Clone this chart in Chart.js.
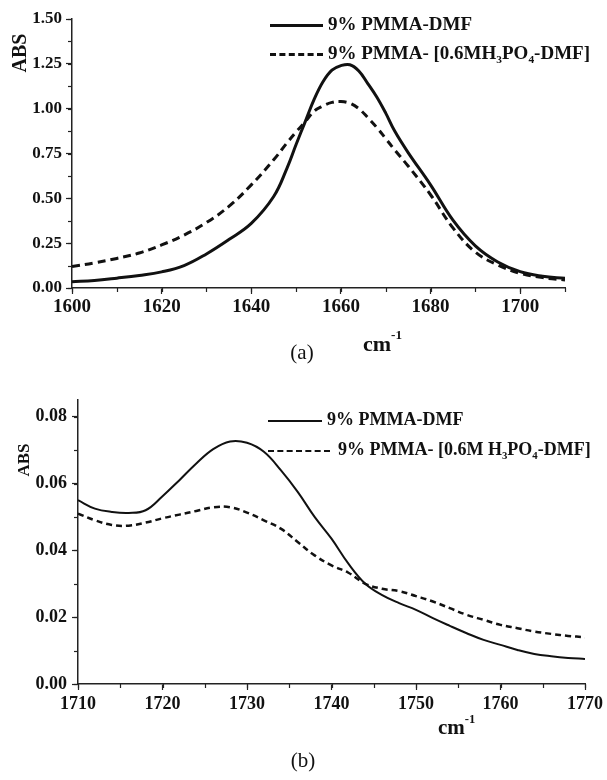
<!DOCTYPE html>
<html>
<head>
<meta charset="utf-8">
<script src="https://cdn.jsdelivr.net/npm/chart.js@4.4.1/dist/chart.umd.min.js"></script>
<style>
  body { margin: 0; background: #fff; width: 607px; height: 780px; position: relative; overflow: hidden;
         font-family: "Liberation Serif", "Times New Roman", serif; color: #111; }
  .cv { position: absolute; left: 0; }
  .lbl { position: absolute; white-space: nowrap; font-weight: bold; line-height: 1; }
  .yt { transform: translate(-50%, -50%) rotate(-90deg); }
  .cap { position: absolute; font-weight: normal; font-size: 21px; transform: translateX(-50%); }
  .leg { position: absolute; white-space: nowrap; font-weight: bold; line-height: 1; }
  .leg span.ln { display: inline-block; vertical-align: middle; margin-right: 5px; }
  sub { font-size: 60%; vertical-align: -0.35em; line-height: 0; }
  sup { font-size: 60%; vertical-align: 0.9em; line-height: 0; }
</style>
</head>
<body>
<canvas id="chartA" class="cv" style="top:0px" width="607" height="330"></canvas>
<canvas id="chartB" class="cv" style="top:380px" width="607" height="350"></canvas>

<div class="lbl yt" style="left:19px; top:53px; font-size:20px;">ABS</div>
<div class="lbl" style="left:363px; top:333px; font-size:22px;">cm<sup>-1</sup></div>
<div class="cap" style="left:302px; top:340px;">(a)</div>

<div class="lbl yt" style="left:23px; top:460px; font-size:17px;">ABS</div>
<div class="lbl" style="left:438px; top:717px; font-size:21px;">cm<sup>-1</sup></div>
<div class="cap" style="left:303px; top:748px;">(b)</div>

<div class="leg" style="left:270px; top:14px; font-size:19px;"><span class="ln" style="width:53px; border-top:3px solid #111;"></span>9% PMMA-DMF</div>
<div class="leg" style="left:270px; top:43px; font-size:19px;"><span class="ln" style="width:53px; border-top:3px dashed #111;"></span>9% PMMA- [0.6MH<sub>3</sub>PO<sub>4</sub>-DMF]</div>

<div class="leg" style="left:268px; top:410px; font-size:18px;"><span class="ln" style="width:54px; border-top:2px solid #111;"></span>9% PMMA-DMF</div>
<div class="leg" style="left:268px; top:440px; font-size:18px;"><span class="ln" style="width:62px; border-top:2px dashed #111; margin-right:8px;"></span>9% PMMA- [0.6M H<sub>3</sub>PO<sub>4</sub>-DMF]</div>

<script>
// (a) 1600-1710 cm-1
const waveA = [1600, 1605, 1610, 1615, 1620, 1625, 1630, 1635, 1640, 1645, 1648, 1650, 1652, 1654, 1656,
               1658, 1660, 1662, 1664, 1666, 1668, 1670, 1672, 1675, 1680, 1685, 1690, 1695, 1700, 1705, 1710];
const absA_dmf = [0.035, 0.042, 0.055, 0.07, 0.09, 0.125, 0.19, 0.27, 0.36, 0.51, 0.67, 0.80, 0.925, 1.05, 1.15,
                  1.215, 1.24, 1.245, 1.21, 1.14, 1.065, 0.975, 0.875, 0.755, 0.575, 0.378, 0.235, 0.145, 0.091, 0.066, 0.054];
const absA_h3po4 = [0.12, 0.14, 0.165, 0.195, 0.24, 0.295, 0.365, 0.455, 0.575, 0.715, 0.81, 0.87, 0.925, 0.985, 1.015,
                    1.035, 1.04, 1.03, 1.0, 0.95, 0.895, 0.833, 0.77, 0.68, 0.52, 0.335, 0.20, 0.128, 0.082, 0.058, 0.045];

// (b) 1710-1770 cm-1
const waveB = [1710, 1712, 1714, 1716, 1718, 1720, 1722, 1724, 1726, 1728, 1730, 1732, 1734, 1736, 1738, 1740,
               1742, 1744, 1746, 1748, 1750, 1752, 1754, 1756, 1758, 1760, 1762, 1764, 1766, 1768, 1770];
const absB_dmf = [0.055, 0.0525, 0.0515, 0.0512, 0.052, 0.0562, 0.061, 0.066, 0.0703, 0.0726, 0.0722, 0.0695, 0.064, 0.0575, 0.050, 0.0435,
                  0.036, 0.030, 0.0266, 0.0242, 0.0222, 0.0197, 0.0174, 0.0152, 0.0132, 0.0117, 0.0102, 0.009, 0.0083, 0.0078, 0.0075];
const absB_h3po4 = [0.051, 0.049, 0.0476, 0.0474, 0.0483, 0.0496, 0.0507, 0.0518, 0.0529, 0.0529, 0.0513, 0.049, 0.0465, 0.0425, 0.0385, 0.0355,
                    0.0333, 0.030, 0.0285, 0.0278, 0.0263, 0.0247, 0.0227, 0.0207, 0.0192, 0.0177, 0.0167, 0.0157, 0.015, 0.0144, 0.014];

const labelsA = ['9% PMMA-DMF', '9% PMMA- [0.6MH3PO4-DMF]'];
const labelsB = ['9% PMMA-DMF', '9% PMMA- [0.6M H3PO4-DMF]'];

// axis ranges and steps
const axisA = { xMin: 1600, xMax: 1710, xStep: 20, xMinor: 10, yMin: 0, yMax: 1.5, yStep: 0.25, yMinor: 0.125 };
const axisB = { xMin: 1710, xMax: 1770, xStep: 10, xMinor: 5, yMin: 0, yMax: 0.085, yStep: 0.02, yMinor: 0.01 };

function pts(xs, ys) {
  return xs.map((x, i) => ({ x: x, y: ys[i] }));
}

// ticks from min by step, never past max
function stepTicks(min, max, step) {
  const t = [];
  for (let i = 0; min + i * step <= max + 1e-9; i++) {
    t.push({ value: +(min + i * step).toFixed(6) });
  }
  return t;
}

// short minor ticks between the major ones
const minorTicks = {
  id: 'minorTicks',
  afterDraw(chart, args, opts) {
    const ctx = chart.ctx;
    const xs = chart.scales.x, ys = chart.scales.y;
    ctx.save();
    ctx.strokeStyle = '#222';
    ctx.lineWidth = 1.2;
    for (let v = opts.xMin; v <= opts.xMax + 1e-9; v += opts.xMinor) {
      const px = Math.round(xs.getPixelForValue(v)) + 0.5;
      ctx.beginPath();
      ctx.moveTo(px, xs.top);
      ctx.lineTo(px, xs.top + 4);
      ctx.stroke();
    }
    for (let v = opts.yMin; v <= opts.yMax + 1e-9; v += opts.yMinor) {
      const py = Math.round(ys.getPixelForValue(v)) + 0.5;
      ctx.beginPath();
      ctx.moveTo(ys.right, py);
      ctx.lineTo(ys.right - 4, py);
      ctx.stroke();
    }
    ctx.restore();
  }
};

function makeChart(id, xs, s1, s2, ax, o) {
  const ctx = document.getElementById(id).getContext('2d');
  return new Chart(ctx, {
    type: 'line',
    data: {
      datasets: [{
        label: o.labels[0],
        data: pts(xs, s1),
        borderColor: '#111',
        borderWidth: o.lw1,
        pointRadius: 0,
        tension: 0.4,
        fill: false
      }, {
        label: o.labels[1],
        data: pts(xs, s2),
        borderColor: '#111',
        borderWidth: o.lw2,
        borderDash: o.dash,
        pointRadius: 0,
        tension: 0.4,
        fill: false
      }]
    },
    options: {
      responsive: false,
      animation: false,
      layout: { padding: { top: o.padTop, right: o.padRight, left: 0, bottom: 0 } },
      plugins: {
        legend: { display: false },
        tooltip: { enabled: false },
        minorTicks: ax
      },
      scales: {
        x: {
          type: 'linear',
          min: ax.xMin, max: ax.xMax,
          afterFit: (s) => { s.height = o.xHeight; },
          afterBuildTicks: (s) => { s.ticks = stepTicks(ax.xMin, ax.xMax, ax.xStep); },
          border: { display: true, color: '#222', width: 1.5 },
          grid: { drawOnChartArea: false, drawTicks: true, tickLength: 6, color: '#222', tickWidth: 1.2 },
          ticks: {
            padding: o.xPad,
            color: '#111',
            font: { family: 'Liberation Serif', weight: 'bold', size: o.xTickSize },
            callback: (v) => v.toString(),
            maxRotation: 0,
            autoSkip: false
          }
        },
        y: {
          type: 'linear',
          min: ax.yMin, max: ax.yMax,
          afterFit: (s) => { s.width = o.yWidth; },
          afterBuildTicks: (s) => { s.ticks = stepTicks(ax.yMin, ax.yMax, ax.yStep); },
          border: { display: true, color: '#222', width: 1.5 },
          grid: { drawOnChartArea: false, drawTicks: true, tickLength: 6, color: '#222', tickWidth: 1.2 },
          ticks: {
            padding: o.yPad,
            color: '#111',
            font: { family: 'Liberation Serif', weight: 'bold', size: o.yTickSize },
            callback: (v) => v.toFixed(2),
            autoSkip: false
          }
        }
      }
    },
    plugins: [minorTicks]
  });
}

makeChart('chartA', waveA, absA_dmf, absA_h3po4, axisA, {
  labels: labelsA, lw1: 3, lw2: 3, dash: [8, 5],
  padTop: 19, padRight: 42, xHeight: 42, yWidth: 72, xPad: 2, yPad: 4, xTickSize: 19, yTickSize: 17
});

makeChart('chartB', waveB, absB_dmf, absB_h3po4, axisB, {
  labels: labelsB, lw1: 2, lw2: 2.5, dash: [6, 4],
  padTop: 20, padRight: 21, xHeight: 46, yWidth: 78, xPad: 4, yPad: 5, xTickSize: 18, yTickSize: 18
});
</script>
</body>
</html>
